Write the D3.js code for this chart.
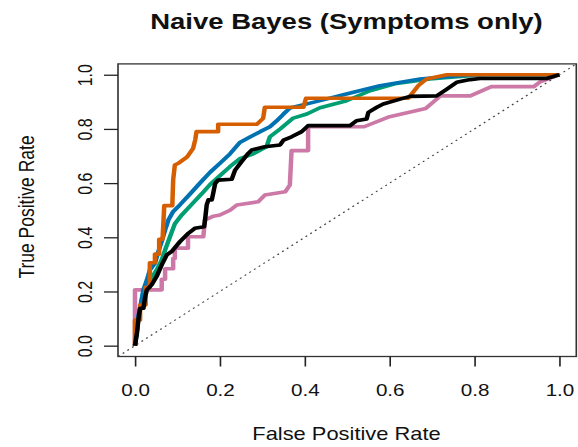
<!DOCTYPE html>
<html>
<head>
<meta charset="utf-8">
<script src="https://cdn.jsdelivr.net/npm/d3@7"></script>
<style>
  html, body { margin: 0; padding: 0; background: #fff; }
  svg { display: block; }
  text { font-family: "Liberation Sans", Arial, sans-serif; fill: #111; }
</style>
</head>
<body>
<div id="chart"></div>
<script>
// ROC curves (false positive rate, true positive rate) for each model run
const rocPink = [[0,0],[0,0.206],[0.063,0.206],[0.063,0.245],[0.071,0.245],[0.071,0.284],[0.09,0.284],
  [0.09,0.322],[0.094,0.322],[0.094,0.36],[0.125,0.36],[0.125,0.402],[0.161,0.402],[0.165,0.464],
  [0.185,0.478],[0.2,0.482],[0.224,0.5],[0.24,0.519],[0.29,0.531],[0.306,0.556],[0.354,0.568],
  [0.365,0.593],[0.369,0.72],[0.408,0.72],[0.408,0.808],[0.54,0.808],[0.6,0.845],[0.685,0.875],
  [0.72,0.922],[0.79,0.922],[0.84,0.956],[0.94,0.956],[0.955,0.974],[1,1]];

const rocGreen = [[0,0],[0.004,0.05],[0.008,0.1],[0.014,0.15],[0.02,0.2],[0.035,0.24],[0.051,0.279],
  [0.063,0.316],[0.071,0.353],[0.082,0.4],[0.094,0.45],[0.11,0.482],[0.134,0.522],[0.157,0.56],
  [0.177,0.595],[0.2,0.627],[0.224,0.661],[0.247,0.69],[0.279,0.708],[0.31,0.734],[0.318,0.771],
  [0.342,0.8],[0.373,0.84],[0.405,0.855],[0.436,0.878],[0.499,0.904],[0.554,0.941],[0.617,0.968],
  [0.695,0.984],[0.79,0.996],[0.82,1],[1,1]];

const rocBlue = [[0,0],[0.004,0.05],[0.008,0.107],[0.014,0.156],[0.02,0.206],[0.028,0.242],[0.035,0.279],
  [0.047,0.304],[0.055,0.347],[0.063,0.384],[0.071,0.427],[0.079,0.465],[0.09,0.495],[0.106,0.52],
  [0.13,0.56],[0.153,0.6],[0.177,0.64],[0.2,0.673],[0.224,0.708],[0.247,0.75],[0.271,0.77],
  [0.295,0.79],[0.318,0.808],[0.334,0.83],[0.35,0.855],[0.365,0.877],[0.42,0.898],[0.491,0.926],
  [0.577,0.959],[0.672,0.984],[0.75,0.995],[0.8,1],[1,1]];

const rocOrange = [[0,0],[0,0.095],[0.012,0.095],[0.012,0.15],[0.025,0.15],[0.025,0.215],[0.035,0.215],
  [0.035,0.306],[0.047,0.306],[0.047,0.338],[0.057,0.338],[0.057,0.393],[0.065,0.393],[0.069,0.517],
  [0.088,0.517],[0.09,0.612],[0.094,0.667],[0.102,0.673],[0.123,0.697],[0.137,0.728],[0.142,0.76],
  [0.145,0.79],[0.196,0.79],[0.196,0.817],[0.287,0.817],[0.302,0.839],[0.306,0.88],[0.397,0.88],
  [0.403,0.913],[0.644,0.913],[0.668,0.96],[0.687,0.984],[0.735,1],[1,1]];

const rocBlack = [[0,0],[0.005,0.05],[0.008,0.095],[0.012,0.138],[0.02,0.138],[0.024,0.18],[0.028,0.206],
  [0.039,0.224],[0.051,0.255],[0.063,0.298],[0.075,0.335],[0.086,0.347],[0.106,0.384],[0.126,0.415],
  [0.141,0.433],[0.163,0.439],[0.166,0.476],[0.169,0.519],[0.173,0.538],[0.181,0.538],[0.184,0.56],
  [0.189,0.599],[0.196,0.611],[0.228,0.614],[0.236,0.648],[0.251,0.679],[0.267,0.71],[0.275,0.722],
  [0.306,0.734],[0.342,0.741],[0.35,0.759],[0.369,0.771],[0.393,0.79],[0.408,0.812],[0.507,0.812],
  [0.522,0.83],[0.546,0.837],[0.55,0.861],[0.57,0.88],[0.585,0.892],[0.625,0.91],[0.648,0.92],
  [0.711,0.922],[0.735,0.947],[0.758,0.972],[0.79,0.982],[0.813,0.986],[0.97,0.986],[1,1]];

const seriesColors = ["#CC79A7", "#009E73", "#0072B2", "#D55E00", "#000000"];
const tickValues = [0, 0.2, 0.4, 0.6, 0.8, 1.0];
const titleText = "Naive Bayes (Symptoms only)";
const xLabel = "False Positive Rate";
const yLabel = "True Positive Rate";

const W = 578, H = 447;
const S = 1.25; // horizontal stretch of the whole drawing
const sx = v => v / S;

const svg = d3.select("#chart").append("svg").attr("width", W).attr("height", H);
const root = svg.append("g").attr("transform", `scale(${S},1)`);

const x = d3.scaleLinear().domain([-0.04, 1.04]).range([sx(118), sx(576.3)]);
const y = d3.scaleLinear().domain([-0.04, 1.04]).range([356.5, 63.9]);

// clip to plot region
root.append("clipPath").attr("id", "plotclip").append("rect")
  .attr("x", x(-0.04)).attr("y", y(1.04))
  .attr("width", x(1.04) - x(-0.04)).attr("height", y(-0.04) - y(1.04));

// reference diagonal (chance line)
const diag = x.domain().map(v => [v, v]);
root.append("path")
  .attr("clip-path", "url(#plotclip)")
  .attr("d", d3.line().x(d => x(d[0])).y(d => y(d[1]))(diag))
  .attr("fill", "none").attr("stroke", "#444").attr("stroke-width", 1.1)
  .attr("stroke-dasharray", "1.6,3.2");

// ROC curves
const line = d3.line().x(d => x(d[0])).y(d => y(d[1]));
const curves = [rocPink, rocGreen, rocBlue, rocOrange, rocBlack];
root.append("g").attr("clip-path", "url(#plotclip)")
  .selectAll("path").data(curves).join("path")
  .attr("d", line)
  .attr("fill", "none")
  .attr("stroke", (d, i) => seriesColors[i])
  .attr("stroke-width", 3.6)
  .attr("stroke-linejoin", "round")
  .attr("stroke-linecap", "butt");

// plot frame
root.append("rect")
  .attr("x", x(-0.04)).attr("y", y(1.04))
  .attr("width", x(1.04) - x(-0.04)).attr("height", y(-0.04) - y(1.04))
  .attr("fill", "none").attr("stroke", "#333").attr("stroke-width", 1.3);

// x axis
const fmt = d3.format(".1f");
const gx = root.append("g").attr("transform", `translate(0,${y(-0.04)})`)
  .call(d3.axisBottom(x).tickValues(tickValues).tickFormat(fmt).tickSize(10).tickSizeOuter(0));
gx.select(".domain").remove();
gx.selectAll(".tick line").attr("stroke", "#222").attr("stroke-width", 1.3);
gx.selectAll(".tick text").attr("y", 39.5).attr("dy", null)
  .attr("font-size", 16.5).attr("fill", "#111");

// y axis (labels parallel to the axis)
const gy = root.append("g").attr("transform", `translate(${x(-0.04)},0)`)
  .call(d3.axisLeft(y).tickValues(tickValues).tickFormat(fmt).tickSize(sx(14)).tickSizeOuter(0));
gy.select(".domain").remove();
gy.selectAll(".tick line").attr("stroke", "#222").attr("stroke-width", 1.3);
gy.selectAll(".tick text")
  .attr("transform", "rotate(-90)")
  .attr("x", 0).attr("y", sx(92 - 118)).attr("dy", null)
  .attr("text-anchor", "middle")
  .attr("font-size", 16).attr("fill", "#111");

// title and axis titles
root.append("text").attr("x", sx(346.5)).attr("y", 29.5)
  .attr("text-anchor", "middle").attr("font-weight", "bold").attr("font-size", 22)
  .attr("fill", "#000").text(titleText);

root.append("text").attr("x", sx(346.5)).attr("y", 440.5)
  .attr("text-anchor", "middle").attr("font-size", 17.5).attr("fill", "#111").text(xLabel);

root.append("text")
  .attr("transform", `translate(${sx(33.5)},207) rotate(-90)`)
  .attr("text-anchor", "middle").attr("font-size", 17.5).attr("fill", "#111").text(yLabel);
</script>
</body>
</html>
